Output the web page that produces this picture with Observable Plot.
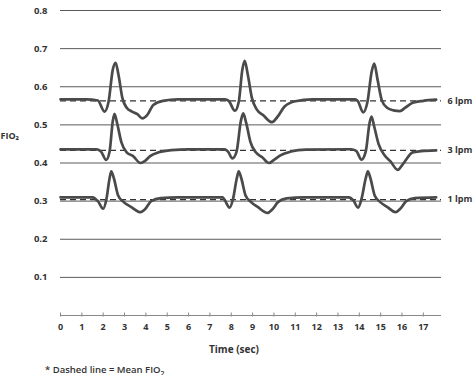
<!DOCTYPE html>
<html>
<head>
<meta charset="utf-8">
<script src="https://cdn.jsdelivr.net/npm/d3@7"></script>
<script src="https://cdn.jsdelivr.net/npm/@observablehq/plot@0.6"></script>
<style>
  body { margin: 0; background: #fff; }
  #caption { font: 600 9.5px "Open Sans", sans-serif; color: #333; margin-left: 45px; line-height: 11px; padding-top: 2px; }
  #caption sub { font-size: 7px; line-height: 0; }
</style>
</head>
<body>
<div id="chart"></div>
<div id="caption">* Dashed line = Mean FIO<sub>2</sub></div>
<script>
// ---- data ----
const seriesNames = ["6 lpm", "3 lpm", "1 lpm"];
const meanFio2 = [0.563, 0.433, 0.304];
const gridTicks = [0.1, 0.2, 0.3, 0.4, 0.5, 0.6, 0.7, 0.8];
const timeTicks = [0, 1, 2, 3, 4, 5, 6, 7, 8, 9, 10, 11, 12, 13, 14, 15, 16, 17];

// 6 lpm
const time6 = [0, 1.2, 1.75, 2.06, 2.25, 2.45, 2.58, 2.72, 2.9, 3.1, 3.35, 3.6, 3.84, 4.05, 4.35, 4.8, 5.5,
  7.7, 7.88, 8.17, 8.35, 8.52, 8.63, 8.78, 8.97, 9.2, 9.5, 9.91, 10.15, 10.5, 11.0, 11.8,
  13.8, 13.93, 14.18, 14.38, 14.58, 14.7, 14.85, 15.05, 15.3, 15.6, 15.9, 16.15, 16.5, 17.0, 17.6];
const fio6 = [0.567, 0.567, 0.564, 0.535, 0.56, 0.645, 0.663, 0.63, 0.57, 0.545, 0.535, 0.528, 0.517, 0.525, 0.552, 0.563, 0.567,
  0.567, 0.563, 0.537, 0.56, 0.645, 0.668, 0.63, 0.57, 0.54, 0.525, 0.507, 0.52, 0.548, 0.562, 0.567,
  0.567, 0.562, 0.533, 0.56, 0.64, 0.661, 0.62, 0.565, 0.545, 0.538, 0.536, 0.545, 0.558, 0.563, 0.566];

// 3 lpm
const time3 = [0, 1.7, 1.9, 2.14, 2.3, 2.45, 2.53, 2.65, 2.85, 3.1, 3.4, 3.75, 3.95, 4.2, 4.6, 5.2, 6.0,
  7.7, 7.85, 8.05, 8.25, 8.45, 8.56, 8.7, 8.9, 9.15, 9.45, 9.76, 10.0, 10.3, 10.8, 11.5,
  13.6, 13.85, 14.1, 14.3, 14.48, 14.57, 14.7, 14.9, 15.2, 15.45, 15.8, 16.05, 16.5, 16.9, 17.6];
const fio3 = [0.436, 0.436, 0.43, 0.408, 0.43, 0.51, 0.529, 0.505, 0.455, 0.428, 0.418, 0.40, 0.405, 0.418, 0.428, 0.434, 0.436,
  0.436, 0.43, 0.412, 0.43, 0.51, 0.53, 0.505, 0.455, 0.428, 0.415, 0.40, 0.408, 0.42, 0.43, 0.435,
  0.436, 0.432, 0.409, 0.43, 0.505, 0.522, 0.495, 0.45, 0.419, 0.405, 0.382, 0.398, 0.428, 0.431, 0.433];

// 1 lpm
const time1 = [0, 1.5, 1.75, 2.0, 2.15, 2.3, 2.38, 2.5, 2.7, 2.95, 3.3, 3.75, 3.95, 4.25, 4.7, 5.5,
  7.6, 7.7, 7.92, 8.08, 8.26, 8.35, 8.47, 8.67, 8.92, 9.25, 9.7, 9.92, 10.2, 10.6, 11.4,
  13.5, 13.72, 13.94, 14.1, 14.3, 14.4, 14.52, 14.72, 14.97, 15.3, 15.7, 15.92, 16.2, 16.6, 17.6];
const fio1 = [0.31, 0.31, 0.30, 0.28, 0.305, 0.36, 0.378, 0.36, 0.315, 0.298, 0.285, 0.271, 0.278, 0.30, 0.308, 0.31,
  0.31, 0.302, 0.283, 0.305, 0.36, 0.378, 0.36, 0.315, 0.298, 0.284, 0.269, 0.278, 0.298, 0.307, 0.31,
  0.31, 0.302, 0.283, 0.305, 0.36, 0.378, 0.36, 0.315, 0.298, 0.285, 0.271, 0.28, 0.30, 0.308, 0.31];

// ---- build table ----
const rows = [];
[[time6, fio6, seriesNames[0]], [time3, fio3, seriesNames[1]], [time1, fio1, seriesNames[2]]]
  .forEach(([ts, vs, s]) => ts.forEach((t, i) => rows.push({ t, v: vs[i], s })));
const labels = seriesNames.map((s, i) => ({ s, m: meanFio2[i] }));

const chart = Plot.plot({
  width: 474,
  height: 362,
  marginLeft: 60,
  marginRight: 33,
  marginTop: 10,
  marginBottom: 47,
  x: { domain: [0, 17.85] },
  y: { domain: [0, 0.8] },
  style: { fontFamily: "Open Sans, sans-serif", fontSize: "9px", color: "#333", background: "#fff" },
  marks: [
    Plot.ruleY(gridTicks, { stroke: "#5a5a5a", strokeWidth: 1 }),
    Plot.ruleY([0], { stroke: "#888", strokeWidth: 1 }),
    Plot.axisX({ ticks: timeTicks, tickSize: 4, tickFormat: () => "", label: null, dy: -2.5, stroke: "#888", strokeOpacity: 1 }),
    Plot.ruleY(meanFio2, { stroke: "#333", strokeWidth: 1.3, strokeDasharray: "6,4" }),
    Plot.line(rows, { x: "t", y: "v", z: "s", stroke: "#4a4a4a", strokeWidth: 2.7, curve: "monotone-x" }),
    Plot.text(labels, { y: "m", text: "s", frameAnchor: "right", textAnchor: "start", dx: 6, fontWeight: 700, fill: "#333" }),
    Plot.axisY({ ticks: gridTicks, tickSize: 0, tickPadding: 13, tickFormat: d3.format(".1f"), label: null, fontWeight: 700, fontSize: 9.5 }),
    Plot.axisX({ ticks: timeTicks, tickSize: 0, tickPadding: 8, tickFormat: d => String(d), label: null, fontWeight: 700 }),
    Plot.text(["Time (sec)"], { frameAnchor: "bottom", lineAnchor: "middle", dx: -17, dy: 34, fontWeight: 700, fontSize: 10 }),
    Plot.text(["FIO₂"], { frameAnchor: "left", lineAnchor: "middle", textAnchor: "start", dx: -60, dy: -27, fontWeight: 700, fontSize: 9 })
  ]
});
document.getElementById("chart").appendChild(chart);
</script>
</body>
</html>
